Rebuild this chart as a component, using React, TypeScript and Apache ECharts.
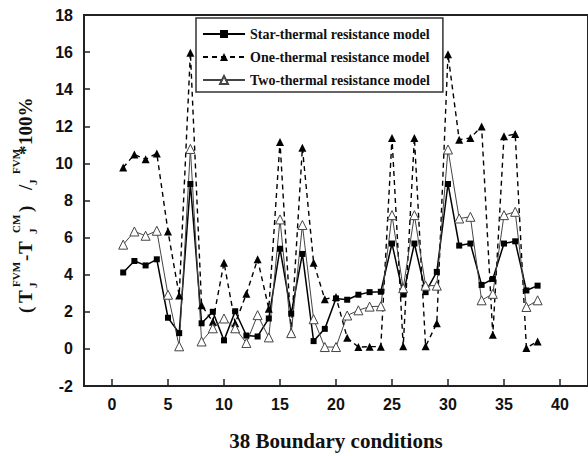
import React, { useEffect, useRef } from "react";
import * as echarts from "echarts";

const boundaryIds = [
  1, 2, 3, 4, 5, 6, 7, 8, 9, 10, 11, 12, 13, 14, 15, 16, 17, 18, 19, 20,
  21, 22, 23, 24, 25, 26, 27, 28, 29, 30, 31, 32, 33, 34, 35, 36, 37, 38,
];

const starModel = [
  4.12, 4.74, 4.5, 4.83, 1.68, 0.85, 8.89, 1.38, 2.0, 0.46,
  2.03, 0.72, 0.67, 1.64, 5.4, 1.9, 5.12, 0.42, 1.08, 2.72,
  2.65, 2.92, 3.06, 3.08, 5.68, 2.93, 5.68, 3.06, 4.15, 8.89,
  5.57, 5.68, 3.45, 3.77, 5.68, 5.8, 3.15, 3.41,
];

const oneModel = [
  9.78, 10.48, 10.22, 10.54, 6.33, 2.88, 15.97, 2.35, 1.46, 4.65,
  1.38, 2.97, 4.83, 2.17, 11.16, 0.9, 10.84, 4.65, 2.68, 2.8,
  0.6, 0.1, 0.12, 0.12, 11.37, 0.14, 11.37, 0.14, 1.38, 15.88,
  11.28, 11.37, 11.99, 0.76, 11.46, 11.58, 0.05, 0.4,
];

const twoModel = [
  5.62, 6.33, 6.1, 6.37, 2.92, 0.14, 10.78, 0.4, 1.11, 1.64,
  1.11, 0.32, 1.82, 0.62, 6.98, 0.85, 6.68, 1.6, 0.1, 0.1,
  1.8, 2.08, 2.28, 2.3, 7.21, 3.27, 7.21, 3.41, 3.41, 10.75,
  7.03, 7.12, 2.62, 2.97, 7.21, 7.39, 2.26, 2.62,
];

const seriesNames = [
  "Star-thermal resistance model",
  "One-thermal resistance model",
  "Two-thermal resistance model",
];

const xTicks = [0, 5, 10, 15, 20, 25, 30, 35, 40];

const xTitle = "38 Boundary conditions";

const SERIF = "'Liberation Serif', 'Times New Roman', serif";
const SANS = "'Liberation Sans', Arial, sans-serif";

function pairs(vals: number[]) {
  return boundaryIds.map((x, i) => [x, vals[i]]);
}

function yLabelGraphic() {
  const main = 19;
  const small = 11;
  const yMain = 25;
  const ySup = 16;
  const ySub = 33;
  const t = (text: string, x: number, y: number, size: number) => ({
    type: "text",
    x,
    y,
    style: {
      text,
      fill: "#111",
      font: `bold ${size}px ${SERIF}`,
      align: "left",
      verticalAlign: "middle",
    },
  });
  return {
    type: "group",
    x: 0,
    y: 318,
    rotation: Math.PI / 2,
    children: [
      t("(", 5, yMain, main),
      t("T", 15, yMain, main),
      t("FVM", 31, ySup, small),
      t("J", 30, ySub, small),
      t("-", 57, yMain, main),
      t("T", 64, yMain, main),
      t("CM", 85, ySup, small),
      t("J", 84, ySub, small),
      t(")", 106, yMain, main),
      t("/", 128, yMain, main),
      t("J", 133, ySub, small),
      t("FVM", 144, ySup, small),
      t("*", 163, yMain, main),
      t("100%", 173, yMain, main),
    ],
  };
}

export default function App() {
  const ref = useRef<HTMLDivElement>(null);
  useEffect(() => {
    const chart = echarts.init(ref.current!, null, { renderer: "svg" });
    chart.setOption({
      animation: false,
      backgroundColor: "#fff",
      grid: {
        left: 84,
        top: 15,
        width: 507,
        height: 377,
        show: true,
        borderColor: "#222",
        borderWidth: 2,
        containLabel: false,
      },
      legend: {
        left: 196,
        top: 18,
        orient: "vertical",
        itemWidth: 42,
        itemHeight: 10,
        itemGap: 9,
        padding: [9, 13, 5, 6],
        borderColor: "#333",
        borderWidth: 1.5,
        data: seriesNames,
        textStyle: {
          fontFamily: SERIF,
          fontWeight: "bold",
          fontSize: 14,
          color: "#111",
        },
      },
      xAxis: {
        type: "value",
        min: -2.5,
        max: 42.5,
        name: xTitle,
        nameLocation: "middle",
        nameGap: 44,
        nameTextStyle: {
          fontFamily: SERIF,
          fontWeight: "bold",
          fontSize: 21,
          color: "#111",
        },
        axisLine: { show: true, onZero: false, lineStyle: { color: "#222", width: 2 } },
        axisTick: {
          show: true,
          inside: true,
          length: 7,
          customValues: xTicks,
          lineStyle: { color: "#222", width: 1.5 },
        },
        axisLabel: {
          customValues: xTicks,
          margin: 10,
          fontFamily: SANS,
          fontWeight: "bold",
          fontSize: 16,
          color: "#111",
        },
        splitLine: { show: false },
      },
      yAxis: {
        type: "value",
        min: -2,
        max: 18,
        interval: 2,
        axisLine: { show: true, onZero: false, lineStyle: { color: "#222", width: 2 } },
        axisTick: {
          show: true,
          inside: true,
          length: 6,
          lineStyle: { color: "#222", width: 1.5 },
        },
        axisLabel: {
          margin: 11,
          fontFamily: SANS,
          fontWeight: "bold",
          fontSize: 16,
          color: "#111",
        },
        splitLine: { show: false },
      },
      graphic: [yLabelGraphic()],
      series: [
        {
          name: seriesNames[0],
          type: "line",
          data: pairs(starModel),
          symbol: "rect",
          symbolSize: 6,
          itemStyle: { color: "#000" },
          lineStyle: { color: "#000", width: 1.5 },
        },
        {
          name: seriesNames[1],
          type: "line",
          data: pairs(oneModel),
          symbol: "triangle",
          symbolSize: 8,
          itemStyle: { color: "#000" },
          lineStyle: { color: "#000", width: 1.4, type: [5, 4] },
        },
        {
          name: seriesNames[2],
          type: "line",
          data: pairs(twoModel),
          symbol: "triangle",
          symbolSize: 9,
          itemStyle: { color: "#fff", borderColor: "#444", borderWidth: 1 },
          lineStyle: { color: "#444", width: 1 },
        },
      ],
    });
    return () => chart.dispose();
  }, []);
  return (
    <div
      ref={ref}
      style={{ width: 588, height: 456, position: "absolute", left: 0, top: 0 }}
    />
  );
}
